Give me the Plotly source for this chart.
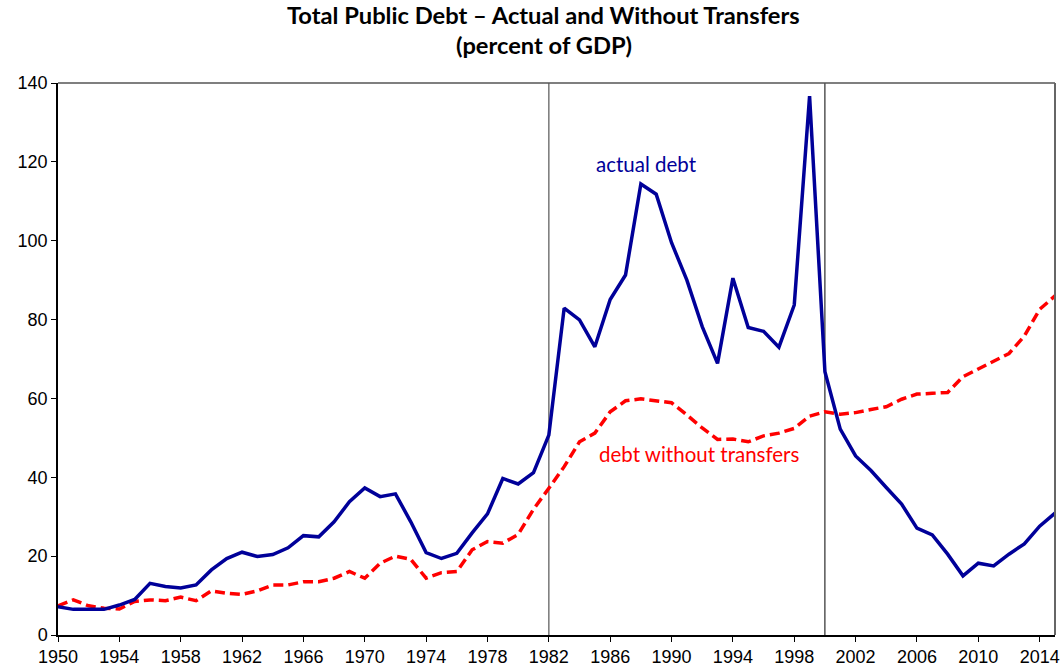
import plotly.graph_objects as go

years = list(range(1950, 2016))

actual_debt = [7.2, 6.5, 6.5, 6.5, 7.6, 9.0, 13.1, 12.3, 11.9, 12.7,
               16.5, 19.4, 21.0, 19.9, 20.4, 22.1, 25.2, 24.9, 28.7, 33.8,
               37.3, 35.1, 35.8, 28.7, 20.9, 19.4, 20.7, 25.9, 30.7, 39.7,
               38.3, 41.2, 50.7, 82.9, 79.9, 73.1, 85.1, 91.3, 114.4, 111.8,
               99.5, 90.0, 78.2, 68.9, 90.5, 78.0, 77.0, 73.0, 83.7, 136.7,
               66.8, 52.2, 45.4, 41.7, 37.4, 33.2, 27.1, 25.4, 20.5, 15.0,
               18.2, 17.5, 20.5, 23.1, 27.6, 30.9]

debt_without_transfers = [7.4, 8.9, 7.4, 6.8, 6.6, 8.5, 8.9, 8.7, 9.6, 8.7,
                          11.2, 10.6, 10.3, 11.2, 12.7, 12.7, 13.5, 13.5, 14.4, 16.1,
                          14.4, 18.2, 20.0, 19.2, 14.4, 15.8, 16.1, 21.6, 23.7, 23.3,
                          25.5, 31.9, 37.2, 42.7, 49.0, 51.2, 56.6, 59.4, 59.9, 59.3,
                          58.9, 55.8, 52.5, 49.6, 49.7, 49.0, 50.5, 51.2, 52.4, 55.5,
                          56.6, 56.0, 56.4, 57.2, 57.9, 59.8, 61.1, 61.3, 61.5, 65.5,
                          67.4, 69.3, 71.4, 75.8, 82.6, 86.0]

x_tick_vals = list(range(1950, 2016, 4))
y_tick_vals = [0, 20, 40, 60, 80, 100, 120, 140]
marker_years = [1982, 2000]

title_line1 = "<b>Total Public Debt \u2013 Actual and Without Transfers</b>"
title_line2 = "<b>(percent of GDP)</b>"

fig = go.Figure()
fig.add_trace(go.Scatter(x=years, y=debt_without_transfers, mode="lines",
                         line=dict(color="#ff0000", width=3.5, dash="10px,5px"),
                         name="debt without transfers", showlegend=False))
fig.add_trace(go.Scatter(x=years, y=actual_debt, mode="lines",
                         line=dict(color="#000099", width=3.5),
                         name="actual debt", showlegend=False))

# vertical reference lines
fig.add_shape(type="line", xref="x", yref="paper", x0=marker_years[0], x1=marker_years[0],
              y0=0, y1=1, line=dict(color="#777777", width=1.5), layer="below")
fig.add_shape(type="line", xref="x", yref="paper", x0=marker_years[1], x1=marker_years[1],
              y0=0, y1=1, line=dict(color="#000000", width=1), layer="below")
# top and right frame
fig.add_shape(type="line", xref="paper", yref="paper", x0=0, x1=1, y0=1, y1=1,
              line=dict(color="#555555", width=1.5))
fig.add_shape(type="line", xref="paper", yref="paper", x0=1, x1=1, y0=0, y1=1,
              line=dict(color="#666666", width=2))

title_font = dict(family="Lato, Open Sans, sans-serif", size=23.7, color="black")
fig.add_annotation(xref="paper", yref="paper", x=0.487, y=1.1230, yanchor="middle",
                   text=title_line1, showarrow=False, font=title_font)
fig.add_annotation(xref="paper", yref="paper", x=0.487, y=1.068, yanchor="middle",
                   text=title_line2, showarrow=False, font=title_font)

fig.add_annotation(x=1988.35, y=119.4, text="actual debt", showarrow=False,
                   font=dict(family="Lato, Open Sans, sans-serif", size=20.5, color="#000099"))
fig.add_annotation(x=1991.85, y=45.8, text="debt without transfers", showarrow=False,
                   font=dict(family="Lato, Open Sans, sans-serif", size=20.5, color="#ff0000"))

fig.update_layout(
    width=1064, height=669,
    paper_bgcolor="white", plot_bgcolor="white",
    margin=dict(l=58, r=9, t=83, b=34, autoexpand=False),
    xaxis=dict(range=[1950, 2015], tickvals=x_tick_vals, ticks="outside", ticklen=5,
               tickcolor="black", showline=True, linecolor="black", linewidth=1.5,
               showgrid=False, zeroline=False, automargin=False,
               tickfont=dict(family="Liberation Sans, Arial, sans-serif", size=18, color="black")),
    yaxis=dict(range=[0, 140], tickvals=y_tick_vals, ticks="outside", ticklen=5,
               tickcolor="black", showline=True, linecolor="black", linewidth=1.5,
               showgrid=False, zeroline=False, automargin=False,
               tickfont=dict(family="Liberation Sans, Arial, sans-serif", size=18, color="black")),
)

fig.write_html("out.html", config={"displayModeBar": False},
               post_script="document.body.style.margin='0';")
